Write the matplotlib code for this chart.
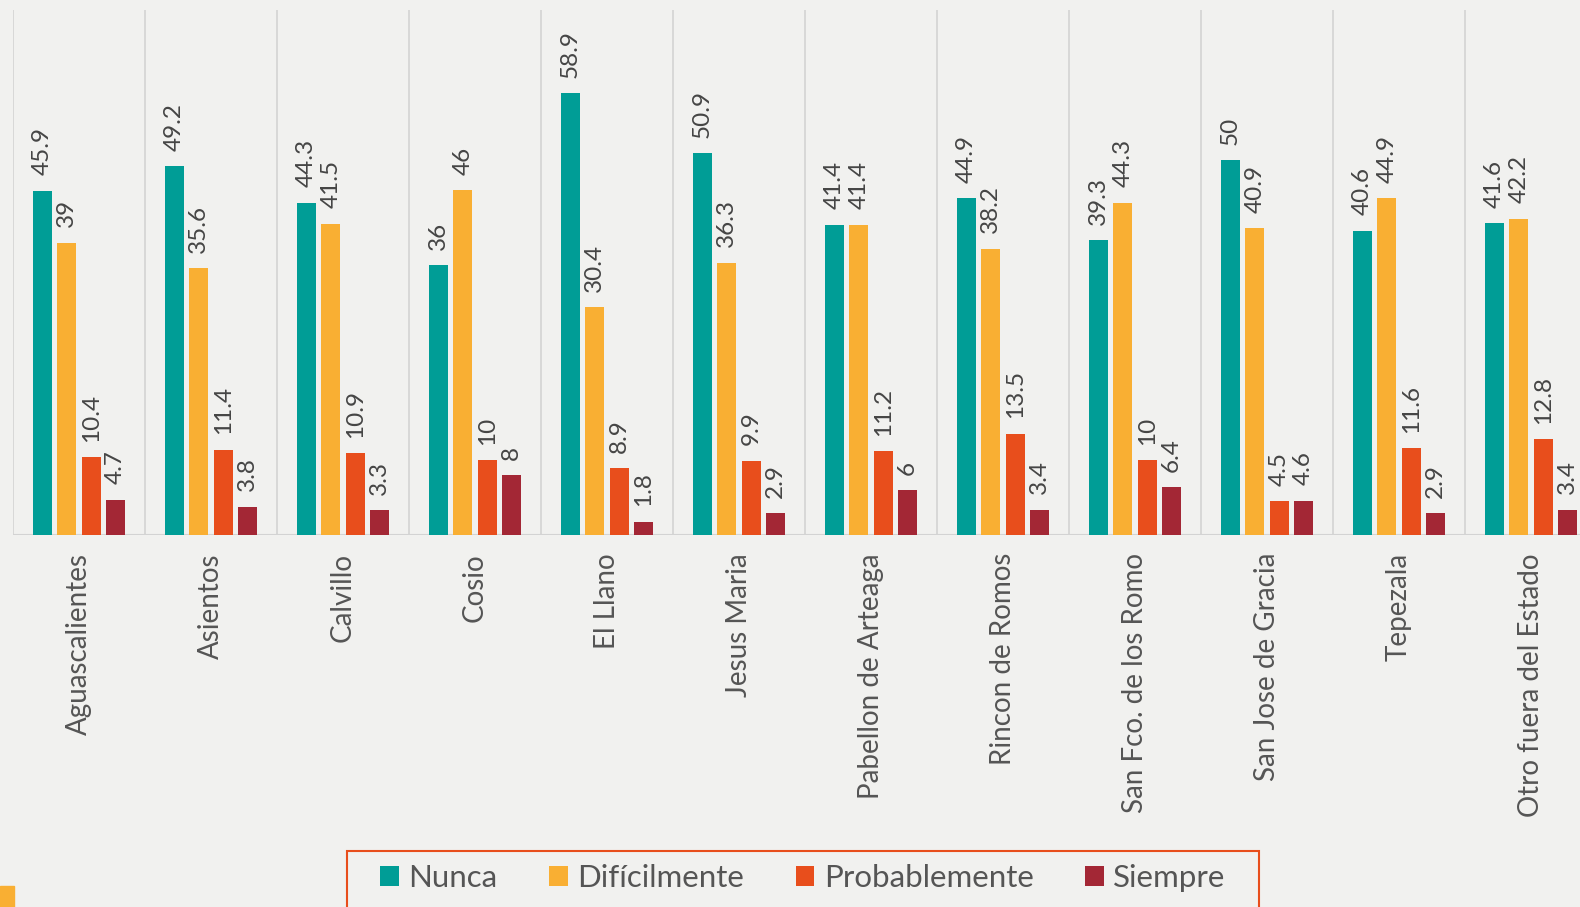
import numpy as np
import matplotlib
matplotlib.use("Agg")
import matplotlib.pyplot as plt
from matplotlib.patches import Patch, Rectangle

plt.rcParams['font.family'] = ['Lato', 'DejaVu Sans']

# datos
municipios = ["Aguascalientes", "Asientos", "Calvillo", "Cosio", "El Llano",
              "Jesus Maria", "Pabellon de Arteaga", "Rincon de Romos",
              "San Fco. de los Romo", "San Jose de Gracia", "Tepezala",
              "Otro fuera del Estado"]
series = ["Nunca", "Difícilmente", "Probablemente", "Siempre"]
nunca = [45.9, 49.2, 44.3, 36, 58.9, 50.9, 41.4, 44.9, 39.3, 50, 40.6, 41.6]
dificilmente = [39, 35.6, 41.5, 46, 30.4, 36.3, 41.4, 38.2, 44.3, 40.9, 44.9, 42.2]
probablemente = [10.4, 11.4, 10.9, 10, 8.9, 9.9, 11.2, 13.5, 10, 4.5, 11.6, 12.8]
siempre = [4.7, 3.8, 3.3, 8, 1.8, 2.9, 6, 3.4, 6.4, 4.6, 2.9, 3.4]

valores = [nunca, dificilmente, probablemente, siempre]
colores = ["#009D96", "#F9AF33", "#E84E1C", "#A32735"]
fondo = "#F1F1EF"

W, H = 1580, 907
fig = plt.figure(figsize=(W / 100, H / 100), dpi=100, facecolor=fondo)
ax = fig.add_axes([13 / W, (H - 535) / H, 12 * 132 / W, 525 / H])
ax.set_facecolor(fondo)

x = np.arange(len(municipios))
ancho = 0.145
paso = 0.185
for i, (nombre, vals, col) in enumerate(zip(series, valores, colores)):
    pos = x + (i - 1.5) * paso
    ax.bar(pos, vals, width=ancho, color=col, label=nombre, zorder=3)
    for xp, v in zip(pos, vals):
        ax.annotate(f"{v:g}", (xp, v), xytext=(0, 11), textcoords="offset points",
                    rotation=90, ha="center", va="bottom", fontsize=17.5,
                    color="#454545")

ax.set_xlim(-0.5, len(municipios) - 0.5)
ax.set_ylim(0, 70)
ax.vlines(np.arange(len(municipios) + 1) - 0.5, 0, 70, color="#D3D3D3", lw=1.2, zorder=1)
ax.axhline(0, color="#D3D3D3", lw=1.5, zorder=2)
for s in ax.spines.values():
    s.set_visible(False)
ax.set_yticks([])
ax.set_xticks(x)
ax.set_xticklabels(municipios, rotation=90, fontsize=20, color="#555555")
ax.tick_params(axis="x", length=0, pad=13)

# caja de la leyenda (sigue por debajo del borde)
fig.add_artist(Rectangle((347 / W, -20 / H), (1259 - 347) / W, (H - 851 + 20) / H,
                         transform=fig.transFigure, facecolor="none",
                         edgecolor="#E84E1C", lw=1.5))

handles = [Patch(facecolor=c, edgecolor="none") for c in colores]
leg = fig.legend(handles, series, loc="center", bbox_to_anchor=((347 + 1259) / 2 / W, 1 - 878 / H),
                 borderaxespad=0, ncol=4, fontsize=22.5, frameon=False,
                 handlelength=0.6, handleheight=0.65, handletextpad=0.3,
                 columnspacing=1.65, borderpad=0, labelcolor="#555555")

fig.add_artist(Rectangle((0, 0), 14 / W, 21 / H, transform=fig.transFigure,
                         color="#F9AF33"))

fig.savefig("out.png", dpi=100, facecolor=fondo)
